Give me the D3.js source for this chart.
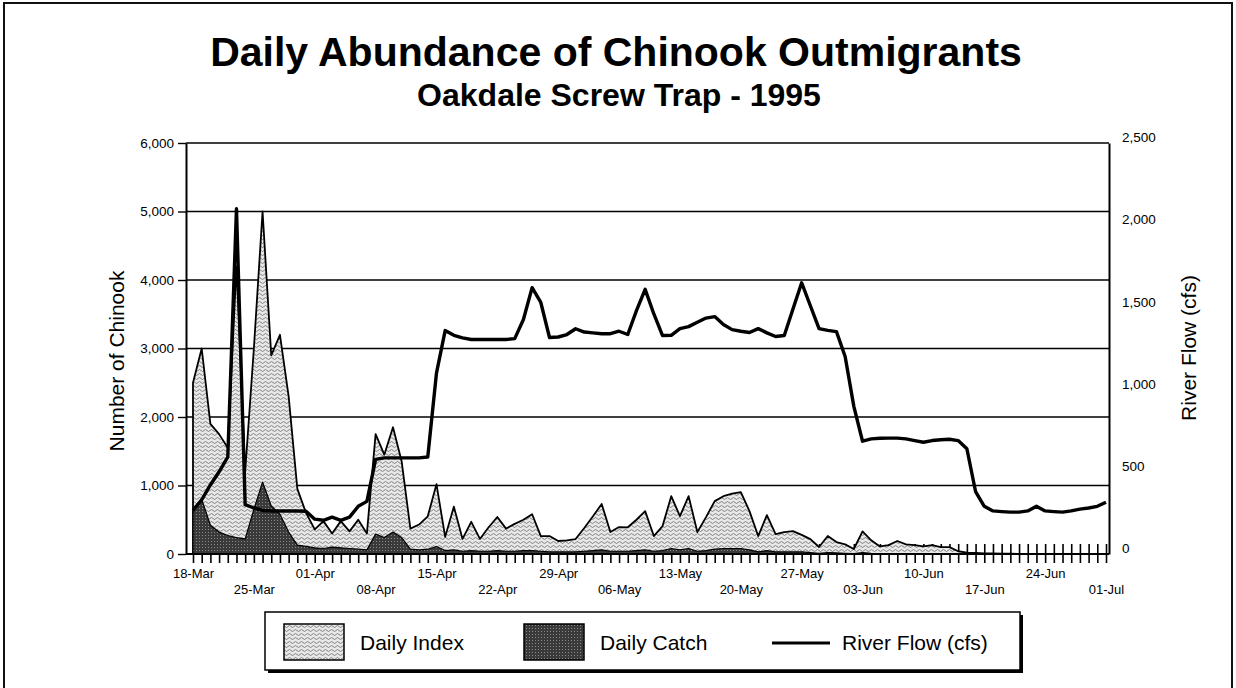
<!DOCTYPE html>
<html>
<head>
<meta charset="utf-8">
<script src="https://cdn.jsdelivr.net/npm/d3@7"></script>
<style>
  body { margin: 0; background: #fff; }
  svg { display: block; font-family: "Liberation Sans", Arial, sans-serif; }
</style>
</head>
<body>
<svg id="chart" width="1236" height="688"></svg>
<script>
// categories: one per day, 18-Mar to 01-Jul 1995
const days = d3.timeDay.range(new Date(1995, 2, 18), new Date(1995, 6, 2));
const dayNames = days.map(d3.timeFormat("%d-%b"));

const tickLabels = ["18-Mar", "25-Mar", "01-Apr", "08-Apr", "15-Apr", "22-Apr", "29-Apr", "06-May",
  "13-May", "20-May", "27-May", "03-Jun", "10-Jun", "17-Jun", "24-Jun", "01-Jul"];

// Daily Index (number of chinook)
const dailyIndex = [
  2500, 3000, 1900, 1750, 1550, 4200, 1200, 3000, 5000, 2900,
  3200, 2300, 950, 600, 360, 480, 300, 480, 330, 500,
  300, 1750, 1450, 1850, 1350, 370, 430, 550, 1020, 250,
  690, 220, 470, 220, 390, 540, 370, 440, 500, 580,
  262, 262, 190, 200, 218, 380, 550, 730, 320, 393,
  390, 500, 626, 262, 408, 844, 553, 844, 320, 539,
  772, 844, 880, 903, 626, 262, 568, 291, 320, 335,
  280, 218, 102, 262, 175, 140, 73, 330, 200, 110,
  130, 190, 140, 130, 110, 130, 100, 100, 40, 20,
  15, 10, 10, 5, 5, 0, 0, 0, 0, 0,
  0, 0, 0, 0, 0, 0
];

// Daily Catch (number of chinook)
const dailyCatch = [
  620, 800, 420, 320, 270, 240, 220, 650, 1050, 700,
  580, 320, 130, 110, 90, 80, 100, 90, 80, 70,
  60, 290, 240, 320, 240, 70, 60, 70, 110, 50,
  60, 40, 50, 40, 40, 50, 40, 40, 50, 50,
  40, 30, 30, 30, 30, 40, 50, 60, 40, 40,
  40, 50, 60, 40, 50, 80, 60, 80, 40, 50,
  70, 80, 80, 80, 60, 30, 50, 30, 30, 30,
  30, 20, 10, 20, 15, 10, 5, 20, 10, 5,
  5, 5, 5, 5, 5, 5, 5, 5, 0, 0,
  0, 0, 0, 0, 0, 0, 0, 0, 0, 0,
  0, 0, 0, 0, 0, 0
];

// River Flow (cfs)
const riverFlow = [
  265, 330, 420, 500, 590, 2100, 300, 280, 265, 262,
  262, 262, 262, 260, 212, 205, 224, 205, 224, 290,
  320, 576, 585, 585, 585, 585, 585, 590, 1100, 1359,
  1330, 1315, 1305, 1305, 1305, 1305, 1305, 1310, 1426, 1620,
  1530, 1317, 1320, 1335, 1370, 1350, 1345, 1340, 1340, 1355,
  1335, 1480, 1610, 1460, 1329, 1330, 1371, 1383, 1410, 1435,
  1444, 1396, 1365, 1355, 1347, 1371, 1345, 1323, 1329, 1490,
  1650, 1510, 1371, 1360, 1353, 1201, 898, 686, 700, 704,
  705, 705, 700, 690, 680, 690, 695, 698, 690, 640,
  380, 290, 262, 258, 255, 255, 262, 290, 262, 258,
  255, 262, 273, 280, 290, 315
];

const leftTicks = [0, 1000, 2000, 3000, 4000, 5000, 6000];
const rightTicks = [0, 500, 1000, 1500, 2000, 2500];

const draw = () => {
  const plot = { left: 186, right: 1109, top: 143, bottom: 554 };
  const svg = d3.select("#chart");

  // patterns for the two area series
  const defs = svg.append("defs");
  const pIdx = defs.append("pattern").attr("id", "idx")
    .attr("patternUnits", "userSpaceOnUse").attr("width", 6).attr("height", 4);
  pIdx.append("rect").attr("width", 6).attr("height", 4).attr("fill", "#e8e8e8");
  pIdx.append("path").attr("d", "M0 2.5 Q1.5 0.5 3 2.5 T6 2.5")
    .attr("fill", "none").attr("stroke", "#6a6a6a").attr("stroke-width", 0.8);

  const pCat = defs.append("pattern").attr("id", "cat")
    .attr("patternUnits", "userSpaceOnUse").attr("width", 3).attr("height", 3);
  pCat.append("rect").attr("width", 3).attr("height", 3).attr("fill", "#3a3a3a");
  pCat.append("rect").attr("x", 1).attr("y", 1).attr("width", 1).attr("height", 1).attr("fill", "#8a8a8a");

  // outer frame
  svg.append("rect").attr("x", 4).attr("y", 3).attr("width", 1228).attr("height", 700)
    .attr("fill", "none").attr("stroke", "#111").attr("stroke-width", 2);

  // titles
  svg.append("text").attr("x", 616).attr("y", 66).attr("text-anchor", "middle")
    .style("font-size", "41px").style("font-weight", 700).text("Daily Abundance of Chinook Outmigrants");
  svg.append("text").attr("x", 619).attr("y", 106).attr("text-anchor", "middle")
    .style("font-size", "32px").style("font-weight", 700).text("Oakdale Screw Trap - 1995");

  const x = d3.scalePoint().domain(dayNames).range([193, 1106]);
  const yL = d3.scaleLinear().domain([0, 6000]).range([plot.bottom, plot.top]);
  const yR = d3.scaleLinear().domain([0, 2500]).range([plot.bottom, plot.top]);

  // gridlines
  svg.append("g").selectAll("line").data(leftTicks.slice(1)).enter().append("line")
    .attr("x1", plot.left).attr("x2", plot.right)
    .attr("y1", (d) => yL(d)).attr("y2", (d) => yL(d))
    .attr("stroke", "#000").attr("stroke-width", 1.4);

  // day ticks (crossing the axis, partly hidden by areas)
  const tickAxis = svg.append("g").attr("transform", `translate(0,${plot.bottom})`)
    .call(d3.axisBottom(x).tickSize(9).tickFormat(""));
  tickAxis.select(".domain").remove();
  tickAxis.selectAll(".tick line").attr("y1", -10).attr("stroke", "#000").attr("stroke-width", 1.6);

  const rows = dayNames.map((d, i) => ({ day: d, idx: dailyIndex[i], cat: dailyCatch[i], flow: riverFlow[i] }));

  const idxArea = d3.area().x((d) => x(d.day)).y0(yL(0)).y1((d) => yL(d.idx));
  const catArea = d3.area().x((d) => x(d.day)).y0(yL(0)).y1((d) => yL(d.cat));
  const flowLine = d3.line().x((d) => x(d.day)).y((d) => yR(d.flow));

  svg.append("path").datum(rows).attr("d", idxArea)
    .attr("fill", "url(#idx)").attr("stroke", "#000").attr("stroke-width", 1.8).attr("stroke-linejoin", "round");
  svg.append("path").datum(rows).attr("d", catArea)
    .attr("fill", "url(#cat)").attr("stroke", "#000").attr("stroke-width", 1.2).attr("stroke-linejoin", "round");
  svg.append("path").datum(rows).attr("d", flowLine)
    .attr("fill", "none").attr("stroke", "#000").attr("stroke-width", 3.4).attr("stroke-linejoin", "round");

  // bottom axis line
  svg.append("line").attr("x1", plot.left).attr("x2", plot.right).attr("y1", plot.bottom).attr("y2", plot.bottom)
    .attr("stroke", "#000").attr("stroke-width", 2);

  // left axis
  const la = svg.append("g").attr("transform", `translate(${plot.left},0)`)
    .call(d3.axisLeft(yL).tickValues(leftTicks).tickSize(8).tickSizeOuter(0).tickPadding(4).tickFormat(d3.format(",")));
  la.select(".domain").attr("stroke-width", 2);
  la.selectAll(".tick line").attr("stroke-width", 1.4);
  la.selectAll("text").style("font-size", "13.5px").style("font-family", "Liberation Sans, Arial").attr("fill", "#000");

  // right axis
  const ra = svg.append("g").attr("transform", `translate(${plot.right},0)`)
    .call(d3.axisRight(yR).tickValues(rightTicks).tickSize(0).tickPadding(13).tickFormat(d3.format(",")));
  ra.select(".domain").attr("stroke-width", 2);
  ra.selectAll("text").attr("dy", "-0.1em").style("font-size", "13.5px").style("font-family", "Liberation Sans, Arial").attr("fill", "#000");

  // date labels in two staggered rows
  const xa = svg.append("g").attr("transform", `translate(0,${plot.bottom})`)
    .call(d3.axisBottom(x).tickValues(tickLabels).tickSize(0));
  xa.select(".domain").remove();
  xa.selectAll("text").style("font-size", "13px").style("font-family", "Liberation Sans, Arial").attr("fill", "#000")
    .attr("y", (d, i) => (i % 2 === 0 ? 15 : 31)).attr("dy", "0.71em");

  // axis titles
  svg.append("text").attr("transform", "translate(124,361) rotate(-90)").attr("text-anchor", "middle")
    .style("font-size", "21px").text("Number of Chinook");
  svg.append("text").attr("transform", "translate(1196,348) rotate(-90)").attr("text-anchor", "middle")
    .style("font-size", "21px").text("River Flow (cfs)");

  // legend
  const lg = svg.append("g");
  lg.append("rect").attr("x", 268).attr("y", 615).attr("width", 755).attr("height", 58).attr("fill", "#000");
  lg.append("rect").attr("x", 265).attr("y", 612).attr("width", 755).attr("height", 58)
    .attr("fill", "#fff").attr("stroke", "#000").attr("stroke-width", 1.5);
  lg.append("rect").attr("x", 284).attr("y", 624).attr("width", 60).attr("height", 36)
    .attr("fill", "url(#idx)").attr("stroke", "#000").attr("stroke-width", 1.5);
  lg.append("text").attr("x", 360).attr("y", 650).style("font-size", "21px").text("Daily Index");
  lg.append("rect").attr("x", 524).attr("y", 624).attr("width", 60).attr("height", 36)
    .attr("fill", "url(#cat)").attr("stroke", "#000").attr("stroke-width", 1.5);
  lg.append("text").attr("x", 600).attr("y", 650).style("font-size", "21px").text("Daily Catch");
  lg.append("line").attr("x1", 772).attr("x2", 830).attr("y1", 643).attr("y2", 643)
    .attr("stroke", "#000").attr("stroke-width", 3.2);
  lg.append("text").attr("x", 842).attr("y", 650).style("font-size", "21px").text("River Flow (cfs)");
};

draw();
</script>
</body>
</html>
